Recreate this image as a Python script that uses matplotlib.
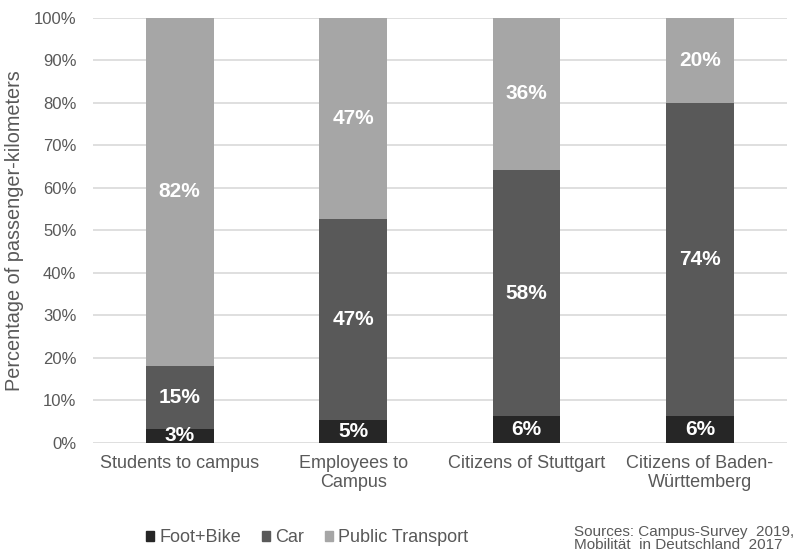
import matplotlib
matplotlib.use("Agg")
import matplotlib.pyplot as plt
from matplotlib.patches import Patch
from matplotlib.ticker import PercentFormatter

plt.rcParams['font.family'] = ['Liberation Sans', 'DejaVu Sans']

categories = ['Students to campus', 'Employees to\nCampus',
              'Citizens of Stuttgart', 'Citizens of Baden-\nWürttemberg']
series = ['Foot+Bike', 'Car', 'Public Transport']
foot_bike = [3.2, 5.3, 6.2, 6.2]
car = [14.9, 47.3, 58.0, 73.8]
public_transport = [81.9, 47.4, 35.8, 20.0]
labels = [['3%', '5%', '6%', '6%'],
          ['15%', '47%', '58%', '74%'],
          ['82%', '47%', '36%', '20%']]
colors = ['#262626', '#595959', '#a6a6a6']
text_grey = '#595959'

fig = plt.figure(figsize=(8.02, 5.52), dpi=100)
ax = fig.add_axes([0.116, 0.198, 0.865, 0.770])

x = range(len(categories))
bottom = [0.0] * len(categories)
for vals, col, labs in zip([foot_bike, car, public_transport], colors, labels):
    ax.bar(x, vals, width=0.39, bottom=bottom, color=col, zorder=2)
    for i, (v, lab) in enumerate(zip(vals, labs)):
        ax.text(i, bottom[i] + v / 2, lab, ha='center', va='center',
                color='white', fontsize=15, fontweight='bold', zorder=3)
    bottom = [b + v for b, v in zip(bottom, vals)]

ax.set_xlim(-0.5, len(categories) - 0.5)
ax.set_ylim(0, 100)
ax.set_yticks(range(0, 101, 10))
ax.yaxis.set_major_formatter(PercentFormatter(decimals=0))
ax.set_xticks(list(x))
ax.set_xticklabels(categories, fontsize=13, color=text_grey, linespacing=1.1)
ax.tick_params(axis='y', labelsize=12, labelcolor=text_grey, length=0, pad=12)
ax.tick_params(axis='x', length=0, pad=9)
ax.grid(axis='y', color='#d9d9d9', linewidth=1.2, zorder=0)
for s in ax.spines.values():
    s.set_visible(False)
ax.set_ylabel('Percentage of passenger-kilometers', fontsize=14.3,
              color=text_grey, labelpad=7)

handles = [Patch(color=c, label=s) for c, s in zip(colors, series)]
fig.legend(handles=handles, loc='center', bbox_to_anchor=(307 / 802, 1 - 538 / 552),
           ncol=3, frameon=False, fontsize=13, handlelength=0.45, handleheight=0.45,
           handletextpad=0.3, columnspacing=1.15, labelcolor=text_grey)

# sources note, kept just inside the bottom-right corner
fig.text(574 / 802, 1 - 525 / 552, 'Sources: Campus-Survey  2019,\nMobilität  in Deutschland  2017',
         ha='left', va='top', fontsize=11, color=text_grey, linespacing=0.95)

fig.savefig('out.png', dpi=100)
